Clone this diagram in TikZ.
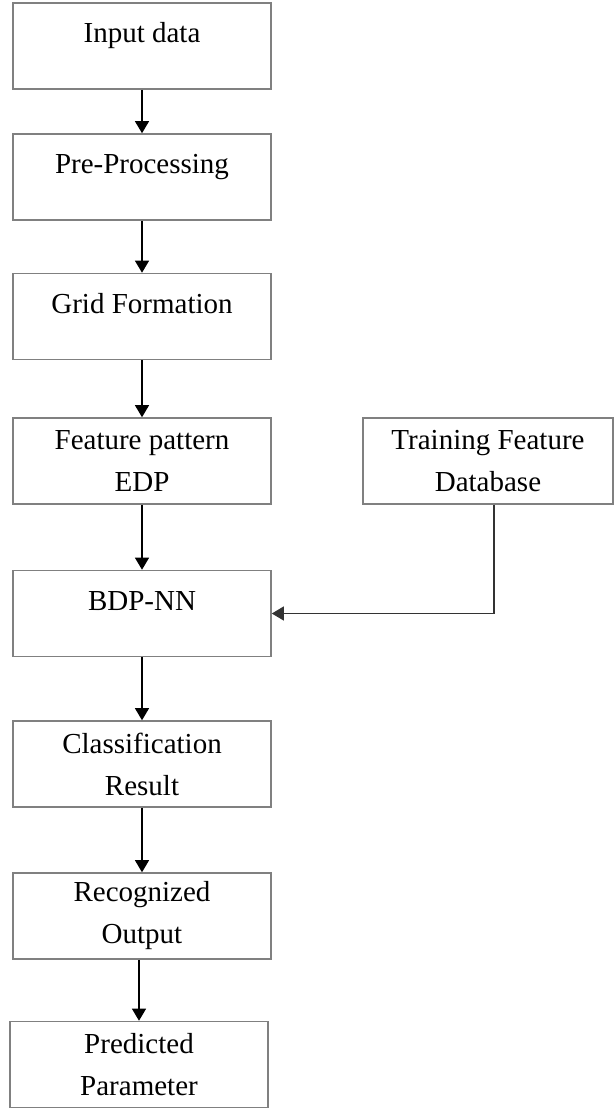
\documentclass[tikz,border=0pt]{standalone}
\usepackage{fontspec}
\setmainfont{Liberation Serif}
\usetikzlibrary{arrows.meta}

\begin{document}
\begin{tikzpicture}[x=1pt,y=-1pt,
  box/.style={draw=black!50,line width=1.6pt,minimum width=258pt,minimum height=86pt,
    align=center,inner sep=0pt,font=\fontsize{29}{42}\selectfont},
  oneline/.style={text height=20pt,text depth=27pt},
  arr/.style={line width=1.3pt,-{Triangle[width=14pt,length=12pt]}}]
\useasboundingbox (0,0) rectangle (614,1110);

% main column
\node[box,oneline] (input) at (142,46) {Input data};
\node[box,oneline] (prep) at (142,177) {Pre-Processing};
\node[box,oneline] (grid) at (142,316.5) {Grid Formation};
\node[box] (feat) at (142,461) {Feature pattern\\EDP};
\node[box,oneline] (bdp) at (142,613.5) {BDP-NN};
\node[box] (cls) at (142,764) {Classification\\Result};
\node[box] (rec) at (142,916) {Recognized\\Output};
\node[box] (pred) at (139,1064.5) {Predicted\\Parameter};

% database
\node[box,minimum width=250pt] (train) at (488,461) {Training Feature\\Database};
\coordinate (tap) at (494,0);

\draw[arr] (input) -- (prep);
\draw[arr] (prep) -- (grid);
\draw[arr] (grid) -- (feat);
\draw[arr] (feat) -- (bdp);
\draw[arr] (bdp) -- (cls);
\draw[arr] (cls) -- (rec);
\draw[arr] (rec.south -| pred.north) -- (pred.north);
\draw[arr,draw=black!80] (train.south -| tap) |- (bdp.east);

\end{tikzpicture}
\end{document}
